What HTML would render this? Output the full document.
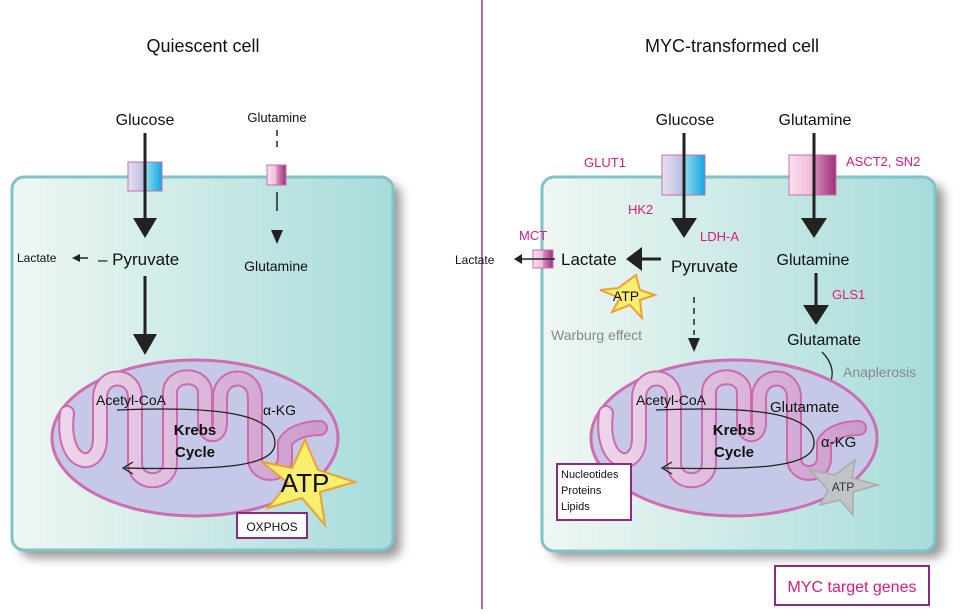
<!DOCTYPE html>
<html><head><meta charset="utf-8"><style>
body{margin:0;background:#fff}
svg text{font-family:"Liberation Sans",sans-serif}
</style></head><body>
<svg width="964" height="609" viewBox="0 0 964 609" xmlns="http://www.w3.org/2000/svg">
<defs>
<linearGradient id="cell" x1="0" x2="1"><stop offset="0" stop-color="#f0f7f3"/><stop offset="1" stop-color="#a6dcda"/></linearGradient>
<linearGradient id="glut" x1="0" x2="1"><stop offset="0" stop-color="#e8e0f0"/><stop offset="0.5" stop-color="#b8bce0"/><stop offset="0.5" stop-color="#9adcf0"/><stop offset="1" stop-color="#10a8e0"/></linearGradient>
<linearGradient id="gln" x1="0" x2="1"><stop offset="0" stop-color="#fbe0ef"/><stop offset="0.5" stop-color="#f0b8d8"/><stop offset="0.5" stop-color="#d890c0"/><stop offset="1" stop-color="#a0307a"/></linearGradient>
<linearGradient id="cr" x1="0" x2="1"><stop offset="0" stop-color="#ecd4ea"/><stop offset="1" stop-color="#cc9ccc"/></linearGradient>
<filter id="sh" x="-10%" y="-10%" width="130%" height="130%"><feGaussianBlur stdDeviation="5"/></filter>
<g id="mito">
<ellipse cx="0" cy="0" rx="143" ry="78" fill="#c6c8e8" stroke="#d06cb0" stroke-width="3"/>
<path d="M-128,-25 C-135,30 -95,35 -95,0 L-95,-40 C-95,-66 -60,-66 -60,-40 L-60,25 C-60,48 -25,48 -25,25 L-25,-45 C-25,-66 10,-66 10,-45 L10,-15 C10,0 25,0 25,-15 L25,-40 C25,-66 60,-66 60,-40 L60,20 C60,40 90,40 90,20 L90,5 C95,-5 110,-10 125,-10" fill="none" stroke="#cc6aac" stroke-width="16" stroke-linecap="round"/>
<path d="M-128,-25 C-135,30 -95,35 -95,0 L-95,-40 C-95,-66 -60,-66 -60,-40 L-60,25 C-60,48 -25,48 -25,25 L-25,-45 C-25,-66 10,-66 10,-45 L10,-15 C10,0 25,0 25,-15 L25,-40 C25,-66 60,-66 60,-40 L60,20 C60,40 90,40 90,20 L90,5 C95,-5 110,-10 125,-10" fill="none" stroke="url(#cr)" stroke-width="12" stroke-linecap="round"/>
<path d="M-78,-28 C20,-32 80,-25 80,5 C80,30 20,32 -70,30" fill="none" stroke="#222" stroke-width="1.3"/>
<path d="M-62,24 L-72,30 L-62,36" fill="none" stroke="#222" stroke-width="1.3"/>
<text x="0" y="-3" font-size="15" font-weight="bold" text-anchor="middle" fill="#111">Krebs</text>
<text x="0" y="19" font-size="15" font-weight="bold" text-anchor="middle" fill="#111">Cycle</text>
</g>
</defs>
<line x1="482" y1="0" x2="482" y2="609" stroke="#b866a8" stroke-width="2"/>
<text x="203" y="52" font-size="18" text-anchor="middle" fill="#111">Quiescent cell</text>
<text x="732" y="52" font-size="18" text-anchor="middle" fill="#111">MYC-transformed cell</text>

<rect x="20" y="184" width="381" height="374" rx="12" fill="#555" opacity="0.6" filter="url(#sh)"/>
<rect x="12" y="177" width="381" height="373" rx="12" fill="url(#cell)" stroke="#80c4c8" stroke-width="3"/>
<rect x="550" y="184" width="394" height="374" rx="12" fill="#555" opacity="0.6" filter="url(#sh)"/>
<rect x="542" y="177" width="393" height="374" rx="12" fill="url(#cell)" stroke="#80c4c8" stroke-width="3"/>

<!-- left -->
<text x="145" y="125" font-size="16" text-anchor="middle" fill="#111">Glucose</text>
<rect x="128" y="162" width="34" height="29" fill="url(#glut)" stroke="#c070b0" stroke-width="1"/>
<line x1="145" y1="133" x2="145" y2="220" stroke="#222" stroke-width="3"/>
<path d="M133,218 L157,218 L145,238 z" fill="#222"/>
<text x="98" y="265" font-size="17" fill="#111">– Pyruvate</text>
<text x="17" y="262" font-size="12" fill="#111">Lactate</text>
<line x1="88" y1="258" x2="76" y2="258" stroke="#222" stroke-width="1.5"/>
<path d="M72,258 L80,254 L80,262 z" fill="#222"/>
<line x1="145" y1="276" x2="145" y2="337" stroke="#222" stroke-width="3"/>
<path d="M133,334 L157,334 L145,355 z" fill="#222"/>
<text x="277" y="122" font-size="13" text-anchor="middle" fill="#111">Glutamine</text>
<line x1="277" y1="130" x2="277" y2="152" stroke="#222" stroke-width="1.5" stroke-dasharray="6,5"/>
<rect x="267" y="165" width="19" height="20" fill="url(#gln)" stroke="#c070b0" stroke-width="1"/>
<line x1="277" y1="192" x2="277" y2="211" stroke="#222" stroke-width="1.5"/>
<path d="M271,230 L283,230 L277,244 z" fill="#222"/>
<text x="276" y="271" font-size="14" text-anchor="middle" fill="#111">Glutamine</text>
<use href="#mito" x="195" y="438"/>
<text x="96" y="405" font-size="14" fill="#111">Acetyl-CoA</text>
<text x="263" y="415" font-size="14" fill="#111">α-KG</text>
<path d="M305,440 L318,470 L355,482 L320,492 L325,525 L302,498 L268,508 L288,483 L262,462 L292,468 z" fill="#f8ee70" stroke="#f0a030" stroke-width="2"/>
<text x="305" y="492" font-size="26" text-anchor="middle" fill="#111">ATP</text>
<rect x="237" y="513" width="70" height="25" fill="#fff" stroke="#8c2a84" stroke-width="2"/>
<text x="272" y="531" font-size="12" text-anchor="middle" fill="#111">OXPHOS</text>

<!-- right -->
<text x="685" y="125" font-size="16" text-anchor="middle" fill="#111">Glucose</text>
<text x="605" y="167" font-size="13" text-anchor="middle" fill="#e0197d">GLUT1</text>
<rect x="662" y="155" width="43" height="40" fill="url(#glut)" stroke="#c070b0" stroke-width="1"/>
<line x1="684" y1="133" x2="684" y2="220" stroke="#222" stroke-width="3"/>
<path d="M671,218 L697,218 L684,238 z" fill="#222"/>
<text x="628" y="214" font-size="13" fill="#e0197d">HK2</text>
<text x="700" y="241" font-size="13" fill="#e0197d">LDH-A</text>
<text x="671" y="272" font-size="17" fill="#111">Pyruvate</text>
<text x="561" y="265" font-size="17" fill="#111">Lactate</text>
<line x1="661" y1="259" x2="640" y2="259" stroke="#222" stroke-width="3"/>
<path d="M642,247 L642,271 L626,259 z" fill="#222"/>
<text x="519" y="240" font-size="13" fill="#e0197d">MCT</text>
<rect x="533" y="250" width="20" height="18" fill="url(#gln)" stroke="#c070b0" stroke-width="1"/>
<line x1="555" y1="259" x2="520" y2="259" stroke="#222" stroke-width="1.5"/>
<path d="M514,259 L522,254 L522,264 z" fill="#222"/>
<text x="455" y="264" font-size="12" fill="#111">Lactate</text>
<path d="M636,275 L640,290 L655,295 L640,300 L642,318 L630,305 L612,312 L620,298 L600,290 L618,288 z" fill="#f8ee70" stroke="#f0a030" stroke-width="2"/>
<text x="626" y="301" font-size="14" text-anchor="middle" fill="#111">ATP</text>
<text x="551" y="340" font-size="14" fill="#888">Warburg effect</text>
<line x1="694" y1="297" x2="694" y2="335" stroke="#222" stroke-width="1.5" stroke-dasharray="6,5"/>
<path d="M688,338 L700,338 L694,352 z" fill="#222"/>
<text x="815" y="125" font-size="16" text-anchor="middle" fill="#111">Glutamine</text>
<rect x="789" y="155" width="47" height="40" fill="url(#gln)" stroke="#c070b0" stroke-width="1"/>
<text x="846" y="166" font-size="13" fill="#e0197d">ASCT2, SN2</text>
<line x1="814" y1="133" x2="814" y2="220" stroke="#222" stroke-width="3"/>
<path d="M801,218 L827,218 L814,238 z" fill="#222"/>
<text x="813" y="265" font-size="16" text-anchor="middle" fill="#111">Glutamine</text>
<line x1="816" y1="273" x2="816" y2="308" stroke="#222" stroke-width="3"/>
<path d="M803,305 L829,305 L816,325 z" fill="#222"/>
<text x="832" y="299" font-size="13" fill="#e0197d">GLS1</text>
<text x="824" y="345" font-size="16" text-anchor="middle" fill="#111">Glutamate</text>
<path d="M822,352 C835,365 835,380 825,390" fill="none" stroke="#222" stroke-width="1.3"/>
<path d="M820,384 L822,393 L836,389" fill="none" stroke="#222" stroke-width="1.3"/>
<text x="843" y="377" font-size="14" fill="#888">Anaplerosis</text>
<use href="#mito" x="734" y="438"/>
<text x="636" y="405" font-size="14" fill="#111">Acetyl-CoA</text>
<text x="770" y="412" font-size="15" fill="#111">Glutamate</text>
<text x="821" y="447" font-size="15" fill="#111">α-KG</text>
<path d="M855,460 L852,478 L878,485 L853,492 L853,515 L840,500 L820,505 L828,490 L810,470 L835,475 z" fill="#c0c4c6" stroke="#a8aaac" stroke-width="1.5"/>
<text x="843" y="491" font-size="12" text-anchor="middle" fill="#333">ATP</text>
<rect x="557" y="464" width="74" height="56" fill="#fff" stroke="#8c2a84" stroke-width="2"/>
<text x="561" y="478" font-size="11" fill="#111">Nucleotides</text>
<text x="561" y="494" font-size="11" fill="#111">Proteins</text>
<text x="561" y="510" font-size="11" fill="#111">Lipids</text>
<rect x="775" y="566" width="154" height="39" fill="#fff" stroke="#8c2a84" stroke-width="2"/>
<text x="852" y="592" font-size="16" text-anchor="middle" fill="#e0197d">MYC target genes</text>
</svg>
</body></html>
